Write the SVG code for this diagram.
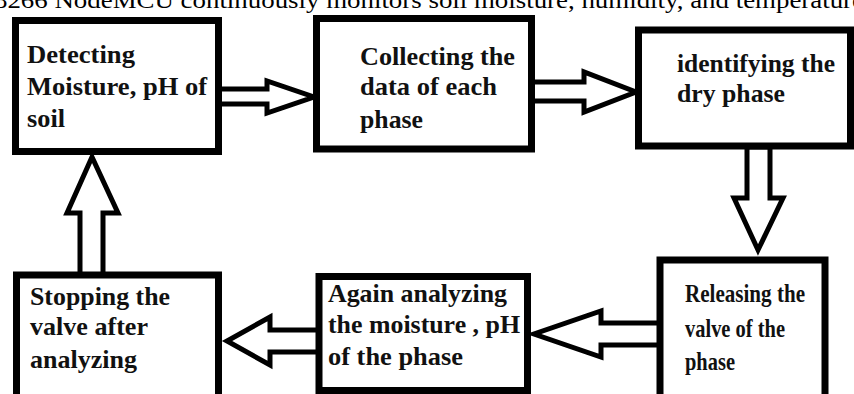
<svg xmlns="http://www.w3.org/2000/svg" width="854" height="394" viewBox="0 0 854 394">
<style>
.box{fill:#fff;stroke:#000;stroke-width:7}
.arr{fill:#fff;stroke:#000;stroke-width:5;stroke-linejoin:miter}
.t{font-family:"Liberation Serif","Times New Roman",serif;font-weight:bold;font-size:25px;fill:#111}
.cap{font-family:"Liberation Serif","Times New Roman",serif;font-size:24px;fill:#000}
</style>
<rect width="854" height="394" fill="#fff"/>
<text class="cap" x="-6" y="8" textLength="870" lengthAdjust="spacingAndGlyphs">8266 NodeMCU continuously monitors soil moisture, humidity, and temperature</text>
<g id="connectors">
<polygon class="arr" points="219,89 267,89 267,81 314,97 267,113 267,104 219,104"/>
<polygon class="arr" points="532,82 584,82 584,72 636,92 584,112 584,101 532,101"/>
<polygon class="arr" points="747,147 747,198 734,198 758,250 783,198 770,198 770,147"/>
<polygon class="arr" points="660,323 601,323 601,311 534,334 601,357 601,345 660,345"/>
<polygon class="arr" points="322,330 270,330 270,317 227,341 270,365 270,352 322,352"/>
<polygon class="arr" points="80,278 80,213 67,213 92,157 118,213 103,213 103,278"/>
</g>
<g id="n1">
<rect class="box" x="15.5" y="20.5" width="203" height="131"/>
<text class="t" x="27" y="63" textLength="108" lengthAdjust="spacingAndGlyphs">Detecting</text>
<text class="t" x="27" y="95" textLength="180" lengthAdjust="spacingAndGlyphs">Moisture, pH of</text>
<text class="t" x="27" y="127" textLength="38" lengthAdjust="spacingAndGlyphs">soil</text>
</g>
<g id="n2">
<rect class="box" x="316.5" y="18.5" width="215" height="130.5"/>
<text class="t" x="360" y="65" textLength="155" lengthAdjust="spacingAndGlyphs">Collecting the</text>
<text class="t" x="360" y="95" textLength="137" lengthAdjust="spacingAndGlyphs">data of each</text>
<text class="t" x="360" y="128" textLength="63" lengthAdjust="spacingAndGlyphs">phase</text>
</g>
<g id="n3">
<rect class="box" x="638.5" y="30" width="212" height="116"/>
<text class="t" x="677" y="72" textLength="158" lengthAdjust="spacingAndGlyphs">identifying the</text>
<text class="t" x="677" y="102" textLength="108" lengthAdjust="spacingAndGlyphs">dry phase</text>
</g>
<g id="n4">
<rect class="box" x="660" y="260" width="165" height="145"/>
<text class="t" x="685" y="302" textLength="120" lengthAdjust="spacingAndGlyphs">Releasing the</text>
<text class="t" x="685" y="337" textLength="100" lengthAdjust="spacingAndGlyphs">valve of the</text>
<text class="t" x="685" y="370" textLength="50" lengthAdjust="spacingAndGlyphs">phase</text>
</g>
<g id="n5">
<rect class="box" x="319" y="276.5" width="208.5" height="114"/>
<text class="t" x="328" y="302" textLength="179" lengthAdjust="spacingAndGlyphs">Again analyzing</text>
<text class="t" x="328" y="333" textLength="192" lengthAdjust="spacingAndGlyphs">the moisture , pH</text>
<text class="t" x="328" y="365" textLength="135" lengthAdjust="spacingAndGlyphs">of the phase</text>
</g>
<g id="n6">
<rect class="box" x="16.5" y="275" width="202" height="130"/>
<text class="t" x="30" y="305" textLength="140" lengthAdjust="spacingAndGlyphs">Stopping the</text>
<text class="t" x="30" y="335" textLength="118" lengthAdjust="spacingAndGlyphs">valve after</text>
<text class="t" x="30" y="368" textLength="107" lengthAdjust="spacingAndGlyphs">analyzing</text>
</g>
</svg>
